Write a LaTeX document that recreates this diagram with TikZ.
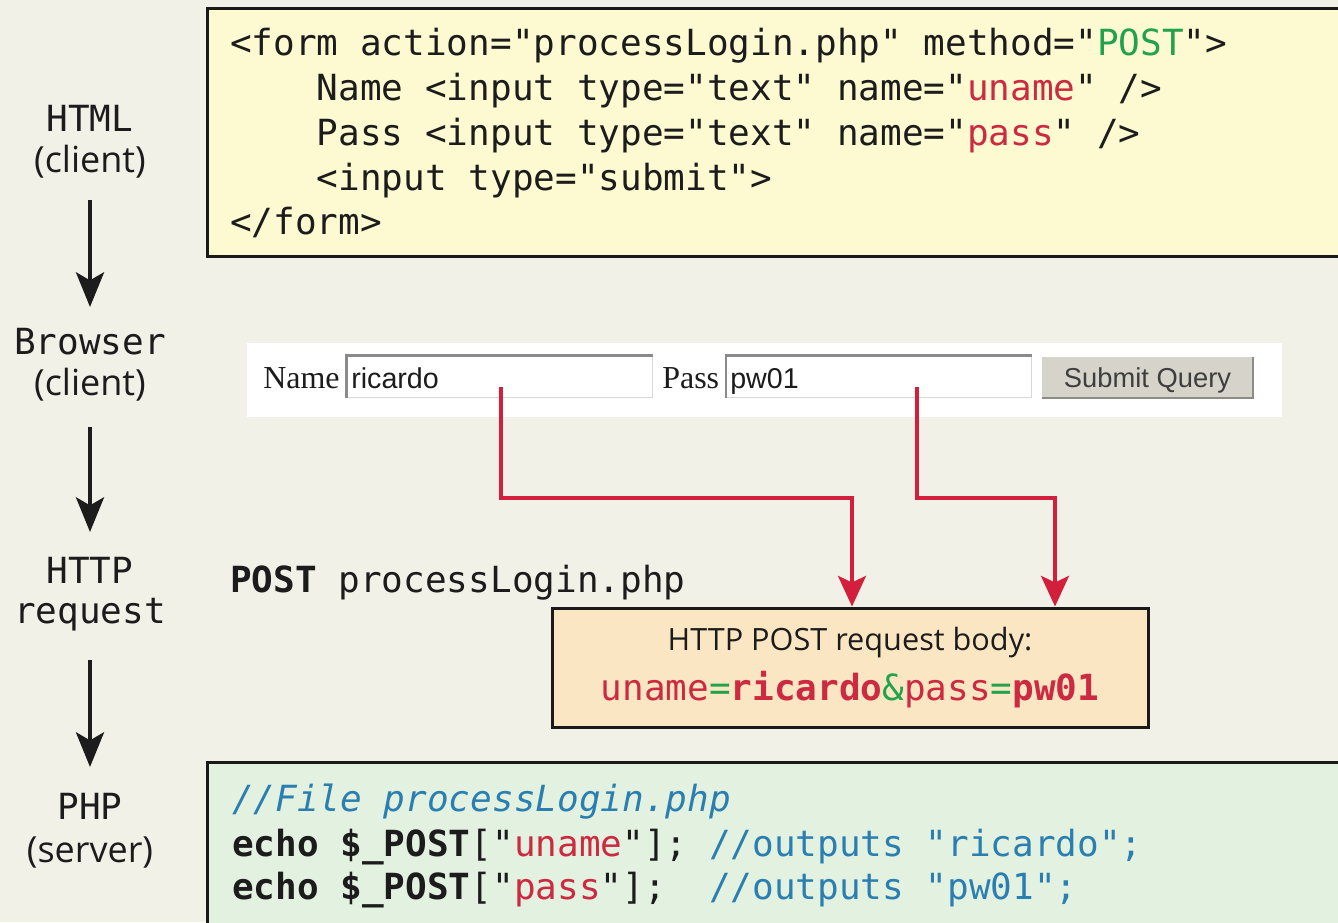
\documentclass[tikz,border=0pt]{standalone}
\usepackage{fontspec}
\setmonofont{DejaVu Sans Mono}
\newfontfamily\labelsans{Open Sans}
\newfontfamily\formserif{Liberation Serif}
\newfontfamily\formsans{Liberation Sans}
\usetikzlibrary{arrows.meta}

\definecolor{page}{HTML}{F2F1E8}
\definecolor{ink}{HTML}{1C1C1C}
\definecolor{frame}{HTML}{1A1A1A}
\definecolor{htmlfill}{HTML}{FDFAD2}
\definecolor{bodyfill}{HTML}{FAE6C3}
\definecolor{phpfill}{HTML}{E3F1E0}
\definecolor{wire}{HTML}{D21F3C}
\definecolor{keyred}{HTML}{CC2A40}
\definecolor{okgreen}{HTML}{22A24A}
\definecolor{cmtblue}{HTML}{2A7FB0}
\definecolor{btnface}{HTML}{D6D3CA}
\definecolor{btnshade}{HTML}{8E8B84}
\definecolor{fieldedge}{HTML}{8A8A8A}
\definecolor{fieldlight}{HTML}{D8D8D8}

\begin{document}
\begin{tikzpicture}[x=0.75pt,y=-0.75pt,
  code/.style={anchor=base west, inner sep=0pt, text=ink,
    font=\fontsize{27}{27}\selectfont\ttfamily},
  lblmono/.style={anchor=base, inner sep=0pt, text=ink,
    font=\fontsize{27}{27}\selectfont\ttfamily},
  lblsans/.style={anchor=base, inner sep=0pt, text=ink,
    font=\fontsize{27}{27}\selectfont\labelsans},
  panel/.style={draw=frame, line width=2.25pt, inner sep=0pt},
  flow/.style={draw=ink, line width=3pt,
    -{Stealth[length=26pt,width=21pt,inset=6pt]}},
  hook/.style={draw=wire, line width=2.4pt,
    -{Stealth[length=23pt,width=21pt,inset=5pt]}},
  formtext/.style={anchor=base west, inner sep=0pt, text=ink},
  field/.style={draw=fieldlight, line width=0.75pt, fill=white,
    minimum width=228.75pt, minimum height=30.75pt, inner sep=0pt}
]
\useasboundingbox (0,0) rectangle (1338,922);
\clip (0,0) rectangle (1338,922);
\fill[page] (0,0) rectangle (1338,922);

% ---- stage labels on the left ----
\node[lblmono] (html)     at (90,131) {HTML};
\node[lblsans] (htmlc)    at (90,172) {(client)};
\node[lblmono] (browser)  at (90,354) {Browser};
\node[lblsans] (browserc) at (90,395) {(client)};
\node[lblmono] (http)     at (90,583) {HTTP};
\node[lblmono] (request)  at (90,623) {request};
\node[lblmono] (php)      at (90,819) {PHP};
\node[lblsans] (phpc)     at (90,862) {(server)};

\draw[flow] ([yshift=-21pt]htmlc.base)    -- ([yshift=35.25pt]browser.base);
\draw[flow] ([yshift=-24pt]browserc.base) -- ([yshift=38.25pt]http.base);
\draw[flow] ([yshift=-27.75pt]request.base) -- ([yshift=39pt]php.base);

% ---- HTML form markup ----
\node[panel, fill=htmlfill, minimum width=864.75pt, minimum height=186pt]
  (htmlbox) at (783.5,132) {};
\node[code] (h1) at (230,55)  {<form action="processLogin.php" method="\textcolor{okgreen}{POST}">};
\node[code] (h2) at (230,100) {\phantom{xxxx}Name <input type="text" name="\textcolor{keyred}{uname}" />};
\node[code] (h3) at (230,145) {\phantom{xxxx}Pass <input type="text" name="\textcolor{keyred}{pass}" />};
\node[code] (h4) at (230,190) {\phantom{xxxx}<input type="submit">};
\node[code] (h5) at (230,234) {</form>};

% ---- rendered form in the browser ----
\node[fill=white, minimum width=776.25pt, minimum height=55.5pt, inner sep=0pt]
  (strip) at (764.5,380) {};
\node[formtext, font=\fontsize{24}{24}\selectfont\formserif] (namelbl) at (263,388) {Name};
\node[field] (namefield) at (499.5,376.5) {};
\draw[fieldedge, line width=1.6pt] (namefield.south west) -- (namefield.north west) -- (namefield.north east);
\node[formtext, font=\fontsize{21.5}{21.5}\selectfont\formsans] (nameval) at (351,388) {ricardo};
\node[formtext, font=\fontsize{24}{24}\selectfont\formserif] (passlbl) at (662,388) {Pass};
\node[field] (passfield) at (879,376.5) {};
\draw[fieldedge, line width=1.6pt] (passfield.south west) -- (passfield.north west) -- (passfield.north east);
\node[formtext, font=\fontsize{21.5}{21.5}\selectfont\formsans] (passval) at (730,388) {pw01};
\node[fill=btnface, minimum width=158.25pt, minimum height=30.75pt, inner sep=0pt]
  (submit) at (1147.5,377.5) {};
\draw[btnshade, line width=1.5pt] (submit.north east) -- (submit.south east) -- (submit.south west);
\draw[white, line width=1pt] (submit.south west) -- (submit.north west) -- (submit.north east);
\node[anchor=base, inner sep=0pt, text=ink!85, font=\fontsize{20.5}{20.5}\selectfont\formsans]
  (submittext) at (1147.5,387) {Submit Query};

% ---- HTTP request ----
\node[code] (reqline) at (230,592) {\textbf{POST} processLogin.php};
\node[panel, fill=bodyfill, minimum width=447pt, minimum height=89.25pt]
  (body) at (850,667.5) {};
\node[anchor=base, inner sep=0pt, text=ink, font=\fontsize{23}{23}\selectfont\labelsans]
  (bodytitle) at (850,650) {HTTP POST request body:};
\node[anchor=base, inner sep=0pt, text=keyred, font=\fontsize{27}{27}\selectfont\ttfamily]
  (bodyval) at (850,700)
  {uname\textcolor{okgreen}{=}\textbf{ricardo}\textcolor{okgreen}{\&}pass\textcolor{okgreen}{=}\textbf{pw01}};

% ---- field values carried into the request body ----
\coordinate (nametap) at (501,387);
\coordinate (passtap) at (917,387);
\draw[hook] (nametap) |- (852,498) -- (body.north -| 852,0);
\draw[hook] (passtap) |- (1055,498) -- (body.north -| 1055,0);

% ---- PHP on the server ----
\node[panel, fill=phpfill, minimum width=864.75pt, minimum height=148.5pt]
  (phpbox) at (783.5,861) {};
\node[code, text=cmtblue] (p1) at (232,811) {\itshape //File processLogin.php};
\node[code] (p2) at (232,856)
  {\textbf{echo \$\_POST}["\textcolor{keyred}{uname}"]; \textcolor{cmtblue}{//outputs "ricardo";}};
\node[code] (p3) at (232,899)
  {\textbf{echo \$\_POST}["\textcolor{keyred}{pass}"];\ \ \textcolor{cmtblue}{//outputs "pw01";}};
\end{tikzpicture}
\end{document}
